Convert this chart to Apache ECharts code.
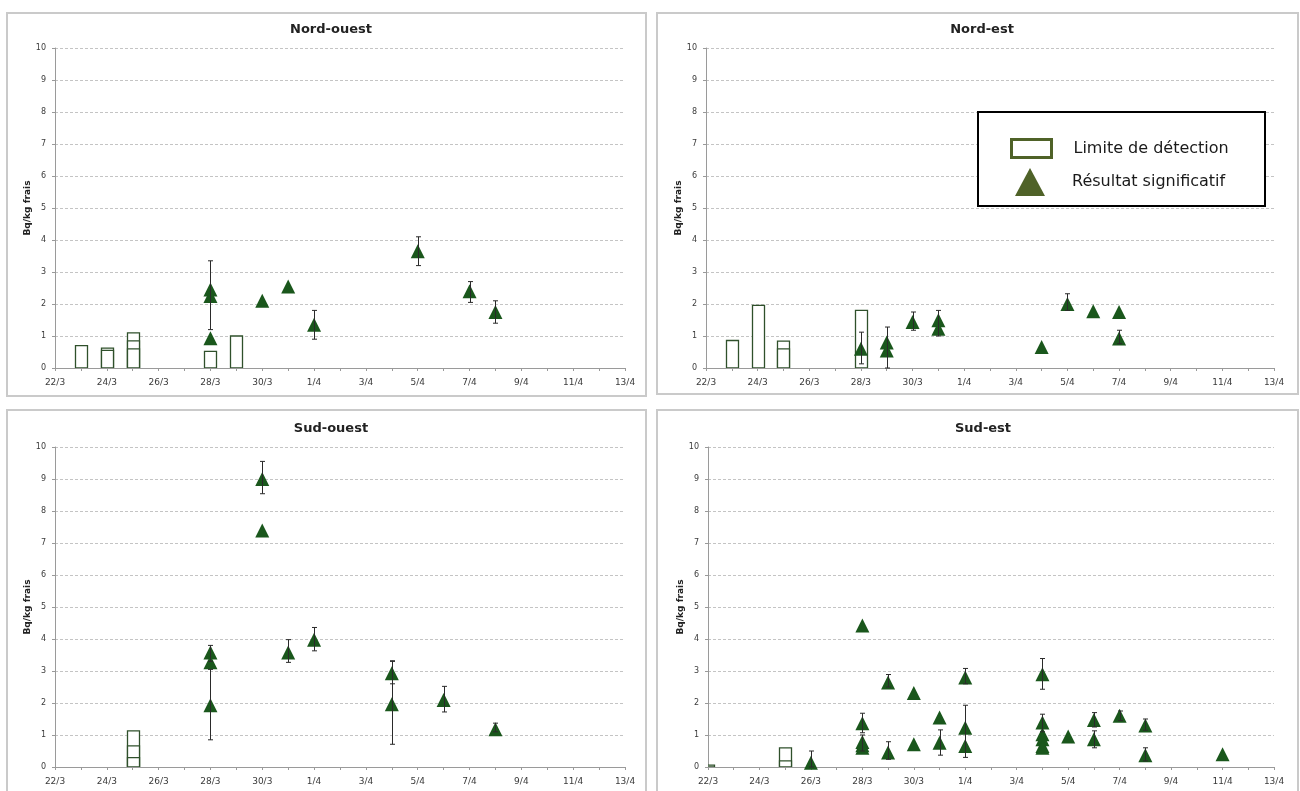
<!DOCTYPE html>
<html><head><meta charset="utf-8">
<script src="https://cdn.jsdelivr.net/npm/echarts@6/dist/echarts.min.js"></script>
<style>html,body{margin:0;padding:0;background:#fff}#c{width:1300px;height:791px}</style>
</head><body><div id="c"></div>
<script>
// x values are day offsets: 0 = 22/3, 10 = 1/4, 22 = 13/4
const tickLabels = ['22/3','24/3','26/3','28/3','30/3','1/4','3/4','5/4','7/4','9/4','11/4','13/4'];
const panelTitles = ['Nord-ouest','Nord-est','Sud-ouest','Sud-est'];
const limitName = 'Limite de détection';
const resultName = 'Résultat significatif';

// Nord-ouest
const noLimits = [[1,0.7],[2,0.62],[2,0.55],[3,1.1],[3,0.85],[3,0.6],[6,0.52],[7,1.0]];
const noResults = [[6,2.45],[6,2.25],[6,0.93],[8,2.1],[9,2.55],[10,1.35],[14,3.65],[16,2.4],[17,1.75]];
const noErrors = [[6,1.2,3.35],[10,0.9,1.8],[14,3.2,4.1],[16,2.05,2.7],[17,1.4,2.1]];

// Nord-est
const neLimits = [[1,0.86],[2,1.96],[3,0.84],[3,0.6],[6,1.8]];
const neResults = [[6,0.6],[7,0.8],[7,0.55],[8,1.44],[9,1.49],[9,1.23],[13,0.66],[14,2.0],[15,1.77],[16,1.75],[16,0.92]];
const neErrors = [[6,0.13,1.12],[7,0,1.28],[8,1.18,1.75],[9,1.0,1.8],[14,1.8,2.32],[16,0.76,1.18]];

// Sud-ouest
const soLimits = [[3,1.13],[3,0.66],[3,0.29]];
const soResults = [[6,3.58],[6,3.27],[6,1.93],[8,9.0],[8,7.39],[9,3.58],[10,3.98],[13,2.93],[13,1.96],[15,2.09],[17,1.18]];
const soErrors = [[6,3.3,3.8],[6,0.85,3.05],[8,8.54,9.55],[9,3.27,3.98],[10,3.63,4.36],[13,2.6,3.32],[13,0.71,3.3],[15,1.72,2.52],[17,1.1,1.37]];

// Sud-est
const seLimits = [[0,0.06],[3,0.6],[3,0.19]];
const seResults = [[4,0.13],[6,4.42],[6,1.37],[6,0.78],[6,0.68],[6,0.6],[7,2.64],[7,0.45],[8,2.31],[8,0.71],[9,1.55],[9,0.76],
  [10,2.8],[10,1.23],[10,0.66],[13,2.9],[13,1.39],[13,1.02],[13,0.87],[13,0.66],[13,0.6],[14,0.95],[15,1.47],[15,0.87],
  [16,1.6],[17,1.3],[17,0.37],[20,0.4]];
const seErrors = [[4,0,0.5],[6,1.07,1.68],[6,0.5,1.0],[7,2.5,2.89],[7,0.24,0.79],[9,0.37,1.16],[10,2.6,3.08],[10,0.3,1.93],
  [13,2.43,3.39],[13,1.1,1.65],[15,1.25,1.7],[15,0.6,1.13],[16,1.45,1.75],[17,1.15,1.5],[17,0.19,0.6]];

const limitsByPanel = [noLimits, neLimits, soLimits, seLimits];
const resultsByPanel = [noResults, neResults, soResults, seResults];
const errorsByPanel = [noErrors, neErrors, soErrors, seErrors];

const layout = [
  {l:55, t:48, w:570, cx:326, ty:18},
  {l:706, t:48, w:568, cx:977, ty:18},
  {l:55, t:447, w:570, cx:326, ty:417},
  {l:708, t:447, w:566, cx:978, ty:417}
];
const frames = [[7,13,639,383],[657,13,641,381],[7,410,639,400],[657,410,641,400]];
const FONT = 'DejaVu Sans';

function renderLimit(params, api){
  const x = api.value(0), v = api.value(1);
  const p0 = api.coord([x,0]), p1 = api.coord([x,v]);
  return {type:'rect', shape:{x:Math.round(p0[0]-6)+0.5, y:p1[1], width:12, height:p0[1]-p1[1]},
    style:{fill:'#fff', stroke:'#2f502b', lineWidth:1.3}};
}
function renderErr(params, api){
  const x = api.value(0);
  const lo = api.coord([x, api.value(1)]), hi = api.coord([x, api.value(2)]);
  const c = 2.5, st = {stroke:'#2a2a2a', lineWidth:1};
  const xx = Math.round(lo[0]) + 0.5;
  return {type:'group', children:[
    {type:'line', shape:{x1:xx,y1:lo[1],x2:xx,y2:hi[1]}, style:st},
    {type:'line', shape:{x1:xx-c,y1:lo[1],x2:xx+c,y2:lo[1]}, style:st},
    {type:'line', shape:{x1:xx-c,y1:hi[1],x2:xx+c,y2:hi[1]}, style:st}
  ]};
}

const grid = [], xAxis = [], yAxis = [], series = [], title = [];
layout.forEach((g, i) => {
  grid.push({left:g.l, top:g.t, width:g.w, height:320});
  title.push({text:panelTitles[i], left:g.cx, top:g.ty, textAlign:'center',
    textStyle:{fontSize:13, fontWeight:'bold', color:'#222', fontFamily:FONT}});
  xAxis.push({type:'value', gridIndex:i, min:0, max:22, interval:2,
    axisLine:{lineStyle:{color:'#9a9a9a'}},
    axisTick:{show:true, length:3, lineStyle:{color:'#9a9a9a'}},
    minorTick:{show:true, splitNumber:2, length:3, lineStyle:{color:'#9a9a9a'}},
    splitLine:{show:false},
    axisLabel:{formatter: v => tickLabels[Math.round(v/2)], fontSize:9, color:'#3a3a3a', margin:10, fontFamily:FONT}});
  yAxis.push({type:'value', gridIndex:i, min:0, max:10, interval:1,
    name:'Bq/kg frais', nameLocation:'middle', nameGap:21,
    nameTextStyle:{fontSize:9, fontWeight:'bold', color:'#222', fontFamily:FONT},
    axisLine:{show:true, lineStyle:{color:'#9a9a9a'}},
    axisTick:{show:true, length:3, lineStyle:{color:'#9a9a9a'}},
    splitLine:{show:true, lineStyle:{color:'#c4c4c4', type:[3,2]}},
    axisLabel:{fontSize:8, color:'#3a3a3a', margin:9, fontFamily:FONT}});
  series.push({type:'custom', name:limitName, xAxisIndex:i, yAxisIndex:i, clip:true,
    renderItem:renderLimit, encode:{x:0, y:1}, data:limitsByPanel[i], z:2});
  series.push({type:'scatter', name:resultName, xAxisIndex:i, yAxisIndex:i,
    symbol:'triangle', symbolSize:14, itemStyle:{color:'#1a571c', opacity:1}, data:resultsByPanel[i], z:3});
  series.push({type:'custom', name:'err'+i, xAxisIndex:i, yAxisIndex:i,
    renderItem:renderErr, encode:{x:0, y:[1,2]}, data:errorsByPanel[i], z:4});
});

const graphic = frames.map(f => ({type:'rect', z:0, silent:true,
  shape:{x:f[0], y:f[1], width:f[2], height:f[3]}, style:{fill:'none', stroke:'#cacaca', lineWidth:2}}));
graphic.push({type:'rect', z:10, silent:true, shape:{x:978, y:112, width:287, height:94},
  style:{fill:'#fff', stroke:'#000', lineWidth:2}});

const chart = echarts.init(document.getElementById('c'));
chart.setOption({
  backgroundColor:'#fff',
  animation:false,
  title, grid, xAxis, yAxis, series, graphic,
  legend:[
    {left:1005, top:133, z:20, itemWidth:40, itemHeight:18, selectedMode:false,
      data:[{name:limitName, icon:'rect', itemStyle:{color:'#fff', borderColor:'#4f6228', borderWidth:3, opacity:1}}],
      textStyle:{fontSize:16, color:'#1a1a1a', fontFamily:FONT, padding:[0,0,0,17]}},
    {left:1010, top:163, z:20, itemWidth:30, itemHeight:28, selectedMode:false,
      data:[{name:resultName, icon:'triangle', itemStyle:{color:'#4f6228', opacity:1}}],
      textStyle:{fontSize:16, color:'#1a1a1a', fontFamily:FONT, padding:[0,0,0,22]}}
  ]
});
</script></body></html>
